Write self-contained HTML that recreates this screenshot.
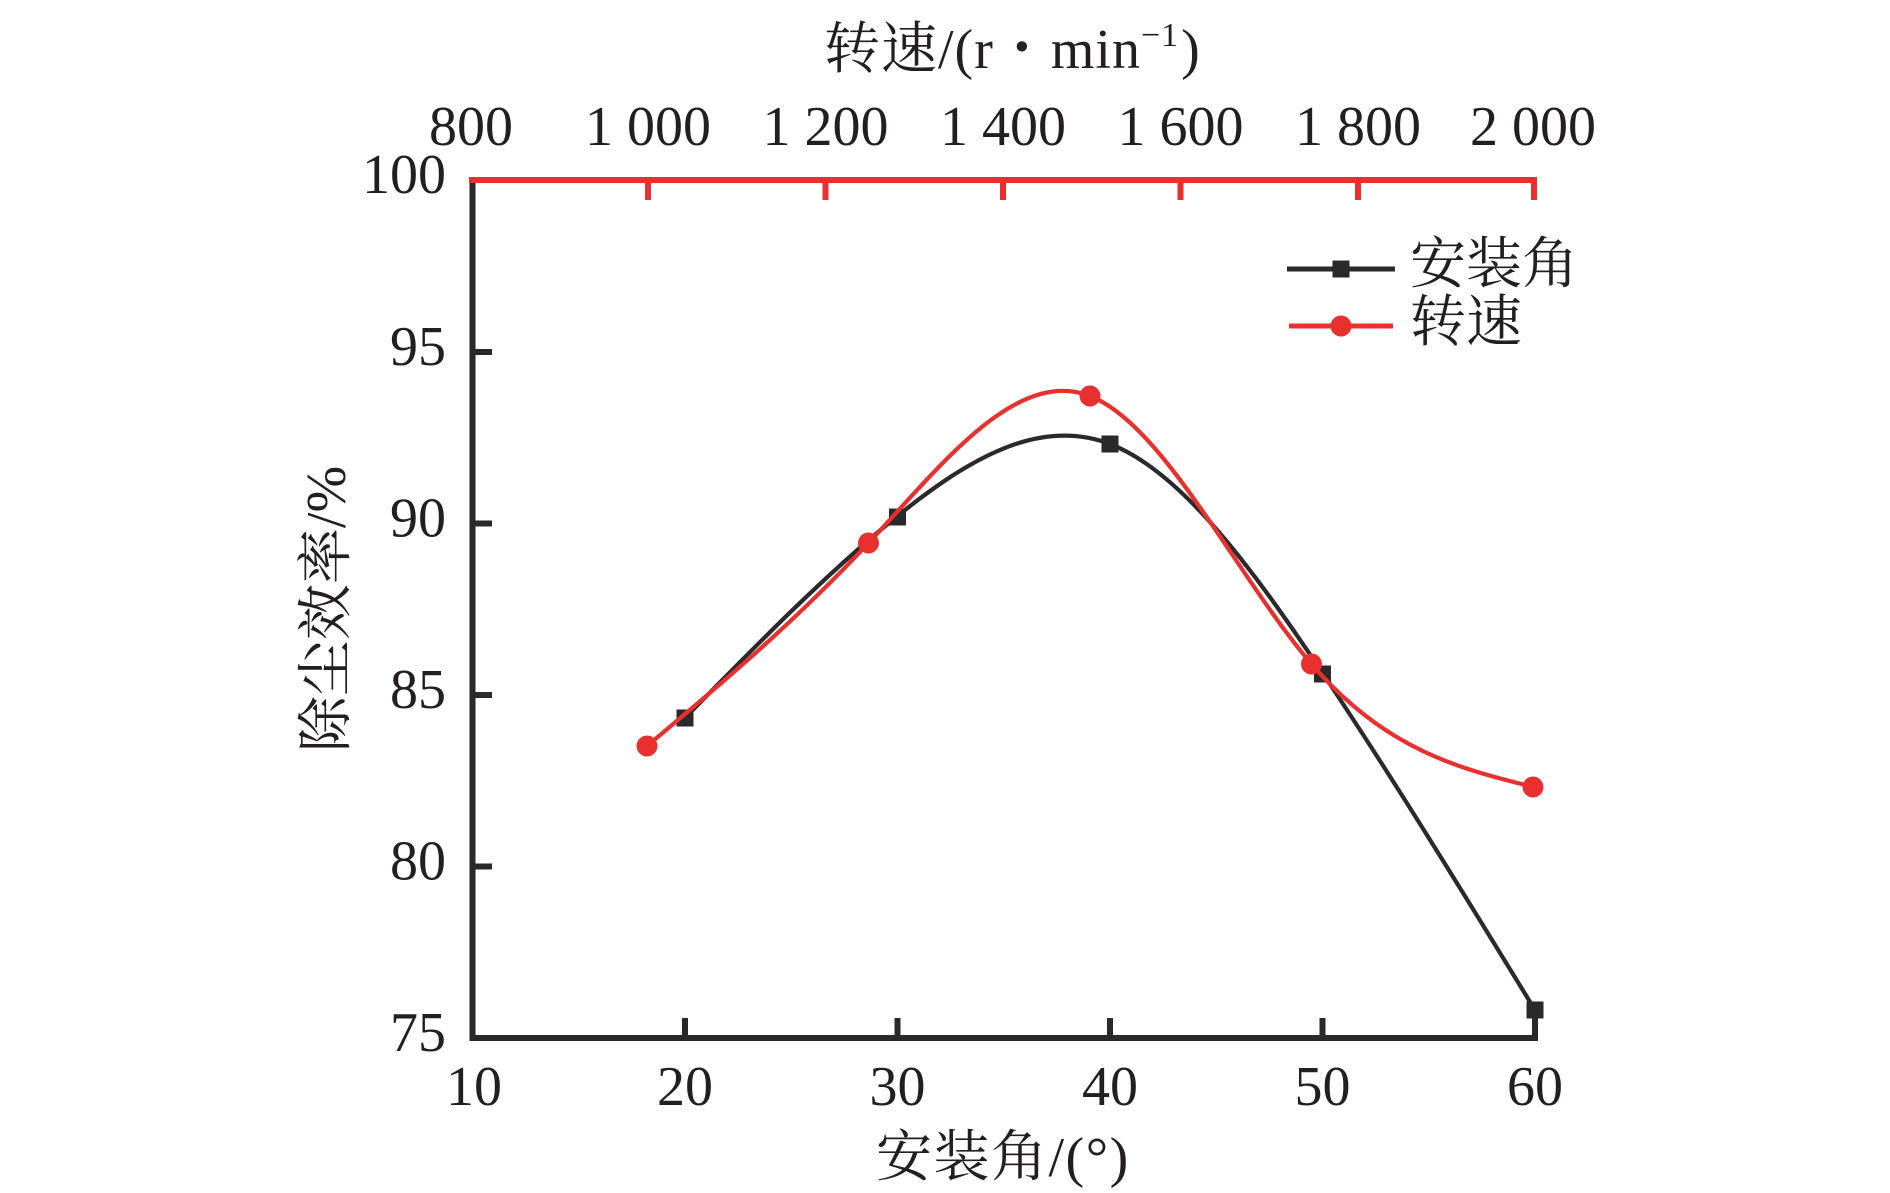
<!DOCTYPE html>
<html>
<head>
<meta charset="utf-8">
<style>
  html, body { margin: 0; padding: 0; background: #ffffff; }
  body { width: 1890px; height: 1193px; overflow: hidden; }
  svg { display: block; }
  .num { font-family: "Liberation Serif", "Noto Serif CJK SC", serif; font-size: 56px; fill: #231f20; }
  .cjk { font-family: "Liberation Serif", "Noto Serif CJK SC", serif; font-size: 56px; fill: #231f20; }
</style>
</head>
<body>
<svg width="1890" height="1193" viewBox="0 0 1890 1193" xmlns="http://www.w3.org/2000/svg">
  <rect x="0" y="0" width="1890" height="1193" fill="#ffffff"/>

  <!-- Left axis -->
  <line x1="472.5" y1="180" x2="472.5" y2="1041" stroke="#2b2a2b" stroke-width="6"/>
  <!-- Bottom axis -->
  <line x1="469.5" y1="1038" x2="1538" y2="1038" stroke="#2b2a2b" stroke-width="6"/>
  <!-- Left ticks -->
  <g stroke="#2b2a2b" stroke-width="6">
    <line x1="472" y1="352" x2="492" y2="352"/>
    <line x1="472" y1="523.5" x2="492" y2="523.5"/>
    <line x1="472" y1="695" x2="492" y2="695"/>
    <line x1="472" y1="866.5" x2="492" y2="866.5"/>
    <!-- bottom ticks -->
    <line x1="685" y1="1038" x2="685" y2="1018"/>
    <line x1="897.5" y1="1038" x2="897.5" y2="1018"/>
    <line x1="1110" y1="1038" x2="1110" y2="1018"/>
    <line x1="1322.5" y1="1038" x2="1322.5" y2="1018"/>
    <line x1="1535" y1="1041" x2="1535" y2="1018"/>
  </g>
  <!-- Top red axis -->
  <line x1="469" y1="180" x2="1537" y2="180" stroke="#e8312f" stroke-width="6"/>
  <g stroke="#e8312f" stroke-width="6">
    <line x1="648" y1="180" x2="648" y2="200"/>
    <line x1="825.5" y1="180" x2="825.5" y2="200"/>
    <line x1="1003" y1="180" x2="1003" y2="200"/>
    <line x1="1180.5" y1="180" x2="1180.5" y2="200"/>
    <line x1="1358" y1="180" x2="1358" y2="200"/>
    <line x1="1534" y1="177" x2="1534" y2="200"/>
  </g>

  <!-- Left tick labels -->
  <g class="num" text-anchor="end">
    <text x="446" y="193">100</text>
    <text x="446" y="365">95</text>
    <text x="446" y="536.5">90</text>
    <text x="446" y="708">85</text>
    <text x="446" y="879.5">80</text>
    <text x="446" y="1051">75</text>
  </g>
  <!-- Bottom tick labels -->
  <g class="num" text-anchor="middle">
    <text x="474" y="1105">10</text>
    <text x="685" y="1105">20</text>
    <text x="897.5" y="1105">30</text>
    <text x="1110" y="1105">40</text>
    <text x="1322.5" y="1105">50</text>
    <text x="1535" y="1105">60</text>
  </g>
  <!-- Top tick labels -->
  <g class="num" text-anchor="middle">
    <text x="471" y="145">800</text>
    <text x="648" y="145">1 000</text>
    <text x="825.5" y="145">1 200</text>
    <text x="1003" y="145">1 400</text>
    <text x="1180.5" y="145">1 600</text>
    <text x="1358" y="145">1 800</text>
    <text x="1533" y="145">2 000</text>
  </g>

  <!-- Axis titles -->
  <text class="cjk" x="824" y="68" letter-spacing="1">转速/(r・min<tspan font-size="34" dy="-22">−1</tspan><tspan dy="22" dx="2">)</tspan></text>
  <text class="cjk" x="876" y="1176" letter-spacing="1.5">安装角/(°)</text>
  <text class="cjk" text-anchor="middle" transform="translate(345,609) rotate(-90)">除尘效率/%</text>

  <!-- Black series (安装角) -->
  <path d="M685,718 C755.8,645.6 826.7,573.2 897.5,516 C968.3,458.8 1039.2,416.9 1110,444 C1180.8,471.1 1251.7,567.2 1322.5,673 C1393.3,778.8 1464.2,894.4 1535,1010"
        fill="none" stroke="#2b2a2b" stroke-width="4.2"/>
  <g fill="#2b2a2b">
    <rect x="676.5" y="709.5" width="17" height="17"/>
    <rect x="889" y="508.5" width="17" height="17"/>
    <rect x="1101.5" y="435.5" width="17" height="17"/>
    <rect x="1314" y="665.5" width="17" height="17"/>
    <rect x="1526.5" y="1001.5" width="17" height="17"/>
  </g>

  <!-- Red series (转速) -->
  <path d="M647,746 C720.8,684.1 794.7,622.2 868.5,543 C942.3,463.9 1016.2,367.5 1090,396 C1163.8,424.5 1237.7,578 1311.5,664 C1385.3,750 1459.2,768.5 1533,787"
        fill="none" stroke="#e8312f" stroke-width="4.2"/>
  <g fill="#e8312f">
    <circle cx="647" cy="746" r="10.5"/>
    <circle cx="868.5" cy="543" r="10.5"/>
    <circle cx="1090" cy="396" r="10.5"/>
    <circle cx="1311.5" cy="664" r="10.5"/>
    <circle cx="1533" cy="787" r="10.5"/>
  </g>

  <!-- Legend -->
  <line x1="1287" y1="269" x2="1395" y2="269" stroke="#2b2a2b" stroke-width="5"/>
  <rect x="1332.5" y="260.5" width="17" height="17" fill="#2b2a2b"/>
  <line x1="1289" y1="326" x2="1393" y2="326" stroke="#e8312f" stroke-width="5"/>
  <circle cx="1341" cy="326" r="10.5" fill="#e8312f"/>
  <text class="cjk" x="1410" y="283">安装角</text>
  <text class="cjk" x="1410" y="341">转速</text>
</svg>
</body>
</html>
